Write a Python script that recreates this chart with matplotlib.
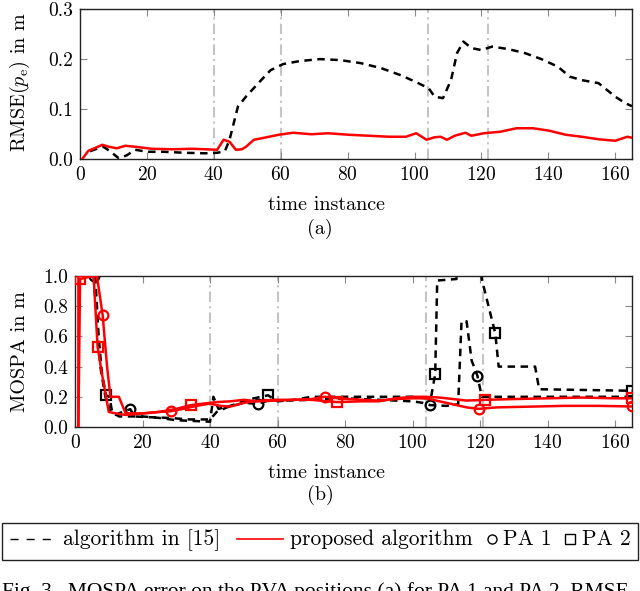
import matplotlib
matplotlib.use("Agg")
import matplotlib.pyplot as plt
from matplotlib.lines import Line2D
from matplotlib.patches import Rectangle
from matplotlib.ticker import FormatStrFormatter, MultipleLocator

plt.rcParams['font.family'] = ['cmr10', 'DejaVu Serif']
plt.rcParams['mathtext.fontset'] = 'cm'
plt.rcParams['axes.formatter.use_mathtext'] = True
plt.rcParams['font.size'] = 14

# ---------------- data: (a) RMSE ----------------
rmse_alg15_x = [3, 5, 7, 9, 11.6, 14, 16.5, 20.2, 25, 31.3, 37.4, 41, 43.3, 44.7, 47.2, 49.6,
                53.3, 57, 60.7, 65.6, 71.7, 77.8, 83.9, 90, 96.2, 101.1, 104.2, 106, 108.5,
                110.9, 112.7, 114.6, 117, 120, 123.2, 128, 133, 137.9, 142.8, 146.4, 150, 155,
                160, 163, 165]
rmse_alg15_y = [0.016, 0.021, 0.025, 0.016, 0.002, 0.008, 0.019, 0.015, 0.015, 0.013, 0.012,
                0.013, 0.016, 0.039, 0.105, 0.125, 0.152, 0.178, 0.19, 0.196, 0.2, 0.198, 0.192,
                0.182, 0.167, 0.152, 0.142, 0.125, 0.122, 0.158, 0.212, 0.235, 0.222, 0.218,
                0.225, 0.22, 0.212, 0.2, 0.185, 0.165, 0.158, 0.152, 0.125, 0.112, 0.106]
rmse_prop_x = [0.6, 2.5, 4.3, 6.7, 8.6, 11, 13.5, 16.5, 21.4, 27.6, 33.7, 37.4, 41, 42.9, 44.7,
               46.6, 48.4, 49.6, 52, 55.8, 59.4, 63.7, 69.2, 74.1, 80.3, 86.4, 92.5, 97.4, 100.5,
               103.6, 106, 107.8, 109.7, 112, 115.2, 117, 120.7, 125.6, 130.5, 135.4, 140.3,
               145.2, 150, 155, 160, 163.6, 165]
rmse_prop_y = [0.0, 0.017, 0.022, 0.029, 0.025, 0.022, 0.027, 0.025, 0.021, 0.02, 0.021, 0.02,
               0.019, 0.039, 0.035, 0.019, 0.02, 0.025, 0.039, 0.044, 0.049, 0.053, 0.05, 0.052,
               0.049, 0.047, 0.045, 0.045, 0.052, 0.039, 0.044, 0.045, 0.039, 0.047, 0.053, 0.047,
               0.052, 0.055, 0.062, 0.062, 0.057, 0.049, 0.045, 0.04, 0.037, 0.045, 0.043]

# ---------------- data: (b) MOSPA ----------------
alg15_pa1_x = [5.5, 6.5, 7.5, 9, 10.5, 12, 14, 16.4, 17.5, 22, 28, 34, 40, 42, 45, 50, 54.1, 58,
               62, 70, 80, 90, 100, 103, 105.2, 110, 113.5, 114.5, 116, 117.5, 119.2, 120.5, 130,
               140, 150, 165]
alg15_pa1_y = [1.0, 0.7, 0.4, 0.2, 0.1, 0.08, 0.1, 0.118, 0.07, 0.065, 0.06, 0.05, 0.05, 0.1,
               0.13, 0.16, 0.154, 0.18, 0.175, 0.18, 0.19, 0.18, 0.17, 0.16, 0.145, 0.14, 0.15,
               0.7, 0.7, 0.44, 0.34, 0.2, 0.2, 0.2, 0.2, 0.2]
alg15_pa1_marks = [5.5, 16.4, 54.1, 105.2, 119.2]

alg15_pa2_x = [6, 7, 8, 9.2, 10.2, 11, 13, 20, 25, 30, 35, 40, 41, 42.5, 46, 50, 53, 57.2, 60,
               65, 70, 80, 90, 100, 104, 105.5, 106.7, 107.3, 113, 113.5, 119.5, 120.5, 124.5,
               125.5, 136.3, 137.5, 165]
alg15_pa2_y = [1.0, 0.6, 0.35, 0.21, 0.2, 0.1, 0.07, 0.07, 0.06, 0.045, 0.04, 0.035, 0.2, 0.12,
               0.14, 0.17, 0.19, 0.21, 0.17, 0.18, 0.2, 0.2, 0.2, 0.2, 0.19, 0.2, 0.35, 0.97,
               0.98, 1.3, 1.3, 0.98, 0.62, 0.4, 0.4, 0.25, 0.24]
alg15_pa2_marks = [9.2, 57.2, 106.7, 124.5, 165]

prop_pa1_x = [1, 1.01, 6.5, 8.2, 9.5, 10.5, 13, 15, 20, 25, 28.3, 32, 36, 40, 43, 46, 50, 55, 60,
              65, 70, 74, 78, 85, 90, 95, 100, 104, 108, 112, 116, 119.6, 125, 135, 145, 155, 165]
prop_pa1_y = [0.0, 1.0, 1.0, 0.74, 0.4, 0.2, 0.2, 0.09, 0.09, 0.1, 0.104, 0.12, 0.14, 0.155,
              0.14, 0.135, 0.16, 0.175, 0.18, 0.18, 0.185, 0.2, 0.19, 0.18, 0.175, 0.185, 0.19,
              0.19, 0.17, 0.15, 0.13, 0.12, 0.13, 0.135, 0.14, 0.14, 0.136]
prop_pa1_marks = [8.2, 28.3, 74, 119.6, 165]

prop_pa2_x = [1, 1.5, 5.5, 6.7, 8, 10, 12, 15, 20, 25, 30, 34.3, 38, 42, 46, 50, 54, 60, 65, 70,
              77.5, 85, 90, 95, 100, 104, 108, 112, 116, 121.6, 130, 140, 150, 160, 165]
prop_pa2_y = [0.0, 0.98, 1.0, 0.53, 0.35, 0.1, 0.09, 0.08, 0.09, 0.1, 0.12, 0.145, 0.155, 0.165,
              0.17, 0.18, 0.17, 0.175, 0.18, 0.18, 0.165, 0.17, 0.17, 0.19, 0.2, 0.2, 0.195,
              0.185, 0.175, 0.18, 0.185, 0.19, 0.195, 0.19, 0.19]
prop_pa2_marks = [1.5, 6.7, 34.3, 77.5, 121.6, 165]

events_a = [40, 60, 104, 122]
events_b = [40, 60, 104, 121]
x_ticks = [0, 20, 40, 60, 80, 100, 120, 140, 160]

W, H = 640, 591
def fx(p): return p / W
def fy(p): return 1 - p / H

fig = plt.figure(figsize=(6.4, 5.91), dpi=100)
ax1 = fig.add_axes([fx(80), fy(159.3), fx(632) - fx(80), fy(9) - fy(159.3)])
ax2 = fig.add_axes([fx(75), fy(427), fx(632) - fx(75), fy(276) - fy(427)])

LW = 1.8
dash = (3, 2.2)
vcol = '#c4c4c4'

def style(ax, ystep):
    ax.set_xlim(0, 165)
    ax.set_xticks(x_ticks)
    ax.yaxis.set_major_locator(MultipleLocator(ystep))
    ax.yaxis.set_major_formatter(FormatStrFormatter('%.1f'))
    ax.tick_params(direction='in', length=5, width=0.8, color='#8a8a8a',
                   top=True, right=True, pad=5, labelsize=14)
    for s in ax.spines.values():
        s.set_linewidth(1.0)
        s.set_color('#222222')

# (a)
for e in events_a:
    ax1.axvline(e, color=vcol, lw=1.5, dashes=(5, 2, 1, 2), zorder=1)
ax1.plot(rmse_alg15_x, rmse_alg15_y, color='black', lw=LW, dashes=dash, zorder=2)
ax1.plot(rmse_prop_x, rmse_prop_y, color='red', lw=LW, zorder=3)
ax1.set_ylim(0, 0.3)
style(ax1, 0.1)

# (b)
for e in events_b:
    ax2.axvline(e, color=vcol, lw=1.5, dashes=(5, 2, 1, 2), zorder=1)

def series(ax, x, y, marks, color, marker, dashed, z):
    idx = [x.index(m) for m in marks]
    kw = dict(color=color, lw=LW, marker=marker, markevery=idx, markersize=7,
              markerfacecolor='none', markeredgecolor=color, markeredgewidth=1.6, zorder=z)
    if dashed:
        kw['dashes'] = dash
    ax.plot(x, y, **kw)

series(ax2, alg15_pa1_x, alg15_pa1_y, alg15_pa1_marks, 'black', 'o', True, 2)
series(ax2, alg15_pa2_x, alg15_pa2_y, alg15_pa2_marks, 'black', 's', True, 2)
series(ax2, prop_pa1_x, prop_pa1_y, prop_pa1_marks, 'red', 'o', False, 3)
series(ax2, prop_pa2_x, prop_pa2_y, prop_pa2_marks, 'red', 's', False, 3)
ax2.set_ylim(0, 1.0)
style(ax2, 0.2)

# axis labels / sub captions
fig.text(fx(327), fy(210), 'time instance', ha='center', va='baseline', fontsize=14.5)
fig.text(fx(320), fy(234), '(a)', ha='center', va='baseline', fontsize=14.5)
fig.text(fx(327), fy(478), 'time instance', ha='center', va='baseline', fontsize=14.5)
fig.text(fx(320), fy(500), '(b)', ha='center', va='baseline', fontsize=14.5)
fig.text(fx(20), fy(82), r'RMSE($p_\mathrm{e}$) in m', rotation=90, ha='center', va='center', fontsize=14.5)
fig.text(fx(20), fy(352), 'MOSPA in m', rotation=90, ha='center', va='center', fontsize=14.5)

# legend (drawn as a boxed row)
fig.add_artist(Rectangle((fx(2), fy(560)), fx(638) - fx(2), fy(522.7) - fy(560),
                         transform=fig.transFigure, fill=False, edgecolor='#222222', lw=1.0))
ly = fy(539)
tb = fy(545)
LFS = 15.5
fig.add_artist(Line2D([fx(10), fx(52)], [ly, ly], transform=fig.transFigure,
                      color='black', lw=1.0, dashes=(5.8, 5.8)))
fig.text(fx(63), tb, 'algorithm in [15]', ha='left', va='baseline', fontsize=LFS)
fig.add_artist(Line2D([fx(237), fx(283)], [ly, ly], transform=fig.transFigure,
                      color='red', lw=1.2))
fig.text(fx(290), tb, 'proposed algorithm', ha='left', va='baseline', fontsize=LFS)
fig.add_artist(Line2D([fx(492)], [ly], transform=fig.transFigure, marker='o', ms=6.5,
                      mfc='none', mec='black', mew=1.0, lw=0))
fig.text(fx(503), tb, 'PA 1', ha='left', va='baseline', fontsize=LFS)
fig.add_artist(Line2D([fx(570)], [ly], transform=fig.transFigure, marker='s', ms=6.5,
                      mfc='none', mec='black', mew=1.0, lw=0))
fig.text(fx(582), tb, 'PA 2', ha='left', va='baseline', fontsize=LFS)

# caption (cut off at the bottom edge as in the reference)
fig.text(fx(2), fy(597), 'Fig. 3.  MOSPA error on the PVA positions (a) for PA 1 and PA 2, RMSE',
         ha='left', va='baseline', fontsize=15.5, family='Liberation Serif')

fig.savefig('out.png', dpi=100)
